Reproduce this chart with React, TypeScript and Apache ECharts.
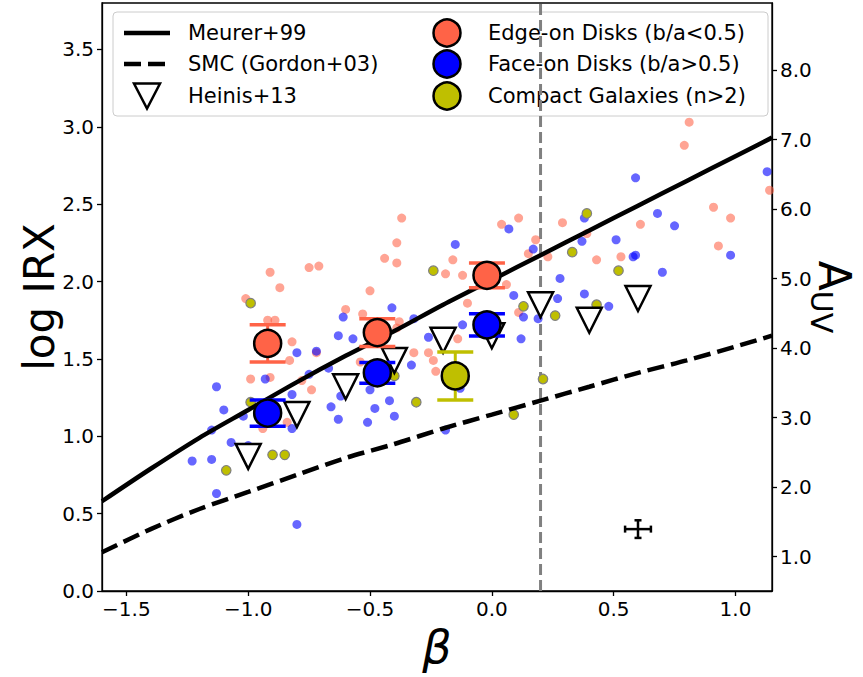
import React, { useEffect, useRef } from 'react';
import * as echarts from 'echarts';

// Axis ranges and tick positions
const BETA_MIN = -1.6;
const BETA_MAX = 1.15;
const LOG_IRX_MIN = 0;
const LOG_IRX_MAX = 3.8;
const AUV_MIN = 0.504;
const AUV_MAX = 8.964;
const BETA_TICKS = [-1.5, -1.0, -0.5, 0.0, 0.5, 1.0];
const LOG_IRX_TICKS = [0, 0.5, 1.0, 1.5, 2.0, 2.5, 3.0, 3.5];
const AUV_TICKS = [1, 2, 3, 4, 5, 6, 7, 8];

// Vertical reference line in beta
const BETA_CUT = 0.2;

// Meurer+99 and SMC (Gordon+03) relations, log IRX against beta
const CURVE_BETA = [-1.6, -1.4, -1.2, -1.0, -0.8, -0.6, -0.4, -0.2, 0.0, 0.2, 0.4, 0.6, 0.8, 1.0, 1.15];
const MEURER_LOG_IRX = [0.58, 0.79, 0.99, 1.17, 1.35, 1.52, 1.68, 1.85, 2.01, 2.17, 2.33, 2.49, 2.65, 2.81, 2.93];
const SMC_LOG_IRX = [0.25, 0.4, 0.53, 0.64, 0.75, 0.86, 0.95, 1.05, 1.14, 1.23, 1.32, 1.41, 1.49, 1.58, 1.65];

// Heinis+13 stacked measurements
const HEINIS_BETA = [-1.0, -0.8, -0.6, -0.4, -0.2, 0.0, 0.2, 0.4, 0.6];
const HEINIS_LOG_IRX = [0.87, 1.14, 1.32, 1.49, 1.62, 1.65, 1.85, 1.75, 1.89];

// Individual galaxies [beta, log IRX]
const EDGE_ON_GALAXIES = [
  [-0.37, 2.41], [-0.39, 2.25], [-0.44, 2.15], [-0.39, 2.12], [-0.75, 2.09], [-0.71, 2.1],
  [-0.91, 2.06], [-0.87, 1.96], [-0.5, 1.94], [-1.01, 1.89], [-0.19, 2.05], [-0.6, 1.82],
  [-0.53, 1.79], [-0.38, 1.74], [-0.39, 1.7], [-0.92, 1.75], [-0.89, 1.75], [-0.82, 1.61],
  [-0.83, 1.49], [-0.91, 1.38], [-0.99, 1.37], [-0.78, 1.36], [-0.74, 1.3], [-0.72, 1.54],
  [-0.54, 1.48], [-0.32, 1.54], [-0.26, 1.54], [-0.24, 1.49], [-0.23, 1.42], [-0.84, 1.09],
  [-0.94, 1.05], [0.81, 3.03], [0.79, 2.88], [0.91, 2.48], [0.98, 2.41], [0.93, 2.23],
  [0.61, 2.37], [1.14, 2.59], [0.29, 2.38], [0.11, 2.41], [0.04, 2.37], [0.18, 2.27],
  [0.15, 2.18], [0.23, 2.16], [0.39, 2.31], [0.43, 2.14], [0.53, 2.16], [-0.16, 2.14],
  [-0.12, 2.04], [0.06, 1.98], [-0.1, 1.86], [0.11, 1.8], [-0.14, 1.63],
];
const FACE_ON_GALAXIES = [
  [-0.41, 1.83], [-0.32, 1.76], [-0.61, 1.77], [-0.63, 1.65], [-0.57, 1.63], [-0.26, 1.64],
  [-1.13, 1.32], [-1.1, 1.17], [-1.15, 1.04], [-1.23, 0.84], [-1.15, 0.85], [-1.07, 0.96],
  [-1.0, 0.94], [-1.02, 1.13], [-1.13, 0.63], [-0.93, 1.37], [-0.82, 1.27], [-0.82, 1.05],
  [-0.75, 1.4], [-0.72, 1.55], [-0.67, 1.44], [-0.8, 1.54], [-0.66, 1.19], [-0.62, 1.26],
  [-0.63, 1.11], [-0.51, 1.09], [-0.48, 1.18], [-0.42, 1.23], [-0.4, 1.13], [-0.33, 1.46],
  [-0.5, 1.3], [-0.19, 1.04], [0.59, 2.67], [1.13, 2.71], [0.68, 2.44], [0.75, 2.36],
  [0.98, 2.17], [0.07, 2.34], [0.38, 2.41], [0.37, 2.26], [0.51, 2.27], [0.58, 2.16],
  [0.59, 2.17], [0.7, 2.06], [0.28, 2.02], [0.17, 2.21], [-0.15, 2.24], [0.09, 1.91],
  [0.27, 1.89], [0.38, 1.92], [0.48, 1.84], [0.19, 1.76], [0.13, 1.77], [0.12, 1.63],
  [-0.12, 1.72], [-0.13, 1.31], [-0.8, 0.43],
];
const COMPACT_GALAXIES = [
  [-0.99, 1.86], [-0.24, 2.07], [-0.99, 1.22], [-0.9, 0.88], [-0.85, 0.88], [-1.09, 0.78],
  [-0.31, 1.22], [-0.4, 1.39], [0.39, 2.44], [0.33, 2.19], [0.52, 2.07], [0.13, 1.84],
  [0.43, 1.85], [0.26, 1.78], [0.21, 1.37], [0.09, 1.14],
];

// Binned means with 1-sigma errors
const EDGE_ON_BETA = [-0.92, -0.47, -0.02];
const EDGE_ON_LOG_IRX = [1.6, 1.67, 2.04];
const EDGE_ON_ERR = [0.12, 0.09, 0.08];
const FACE_ON_BETA = [-0.92, -0.47, -0.02];
const FACE_ON_LOG_IRX = [1.15, 1.41, 1.72];
const FACE_ON_ERR = [0.085, 0.067, 0.072];
const COMPACT_BETA = [-0.15];
const COMPACT_LOG_IRX = [1.39];
const COMPACT_ERR = [0.155];

// Typical measurement uncertainty: [beta, log IRX, beta err, log IRX err]
const TYPICAL_ERROR = [0.6, 0.4, 0.053, 0.057];

const WIDTH = 863;
const HEIGHT = 677;
const FONT = '"DejaVu Sans", Verdana, sans-serif';
const TOMATO = '#FF6347';
const BLUE = '#0000FF';
const OLIVE = '#BFBF00';

const fmtTick = (v: number) => v.toFixed(1).replace('-', '\u2212');

function verticalErrorBars(color: string, capHalf: number) {
  return (params: any, api: any) => {
    const x = api.value(0);
    const y = api.value(1);
    const e = api.value(2);
    const top = api.coord([x, y + e]);
    const bot = api.coord([x, y - e]);
    const capStyle = { stroke: color, lineWidth: 3.5 };
    return {
      type: 'group',
      children: [
        { type: 'line', shape: { x1: top[0], y1: top[1], x2: bot[0], y2: bot[1] }, style: { stroke: color, lineWidth: 3 } },
        { type: 'line', shape: { x1: top[0] - capHalf, y1: top[1], x2: top[0] + capHalf, y2: top[1] }, style: capStyle },
        { type: 'line', shape: { x1: bot[0] - capHalf, y1: bot[1], x2: bot[0] + capHalf, y2: bot[1] }, style: capStyle },
      ],
    };
  };
}

function crossErrorBar(params: any, api: any) {
  const x = api.value(0);
  const y = api.value(1);
  const ex = api.value(2);
  const ey = api.value(3);
  const l = api.coord([x - ex, y]);
  const r = api.coord([x + ex, y]);
  const t = api.coord([x, y + ey]);
  const b = api.coord([x, y - ey]);
  const cap = 3.5;
  const style = { stroke: '#000', lineWidth: 2.5 };
  return {
    type: 'group',
    children: [
      { type: 'line', shape: { x1: l[0], y1: l[1], x2: r[0], y2: r[1] }, style },
      { type: 'line', shape: { x1: t[0], y1: t[1], x2: b[0], y2: b[1] }, style },
      { type: 'line', shape: { x1: l[0], y1: l[1] - cap, x2: l[0], y2: l[1] + cap }, style },
      { type: 'line', shape: { x1: r[0], y1: r[1] - cap, x2: r[0], y2: r[1] + cap }, style },
      { type: 'line', shape: { x1: t[0] - cap, y1: t[1], x2: t[0] + cap, y2: t[1] }, style },
      { type: 'line', shape: { x1: b[0] - cap, y1: b[1], x2: b[0] + cap, y2: b[1] }, style },
    ],
  };
}

const zip = (a: number[], b: number[]) => a.map((v, i) => [v, b[i]]);
const zip3 = (a: number[], b: number[], c: number[]) => a.map((v, i) => [v, b[i], c[i]]);

function legendGraphics() {
  const rowY = [33, 64, 96];
  const leftText = ['Meurer+99', 'SMC (Gordon+03)', 'Heinis+13'];
  const rightText = ['Edge-on Disks (b/a<0.5)', 'Face-on Disks (b/a>0.5)', 'Compact Galaxies (n>2)'];
  const rightColor = [TOMATO, BLUE, OLIVE];
  const label = (text: string, x: number, y: number) => ({
    type: 'text',
    style: {
      text,
      x,
      y,
      fill: '#000',
      font: `21px ${FONT}`,
      textVerticalAlign: 'middle',
      verticalAlign: 'middle',
    },
  });
  const els: any[] = [
    {
      type: 'rect',
      shape: { x: 113, y: 12, width: 655, height: 104, r: 4 },
      style: { fill: 'rgba(255,255,255,0.8)', stroke: '#cccccc', lineWidth: 1 },
    },
    { type: 'line', shape: { x1: 124, y1: rowY[0], x2: 170, y2: rowY[0] }, style: { stroke: '#000', lineWidth: 4.5 } },
    { type: 'line', shape: { x1: 124, y1: rowY[1], x2: 170, y2: rowY[1] }, style: { stroke: '#000', lineWidth: 4.5, lineDash: [17, 7] } },
    {
      type: 'polygon',
      shape: { points: [[134, rowY[2] - 12.5], [160, rowY[2] - 12.5], [147, rowY[2] + 12.5]] },
      style: { fill: '#fff', stroke: '#000', lineWidth: 2.5, lineJoin: 'miter' },
    },
  ];
  leftText.forEach((t, i) => els.push(label(t, 188, rowY[i])));
  rightText.forEach((t, i) => {
    els.push({
      type: 'circle',
      shape: { cx: 447, cy: rowY[i], r: 13.5 },
      style: { fill: rightColor[i], stroke: '#000', lineWidth: 2.5 },
    });
    els.push(label(t, 488, rowY[i]));
  });
  return { type: 'group', z: 100, children: els };
}

export default function App() {
  const ref = useRef<HTMLDivElement>(null);

  useEffect(() => {
    document.body.style.margin = '0';
    if (!ref.current) return;
    const chart = echarts.init(ref.current, undefined, { renderer: 'svg', width: WIDTH, height: HEIGHT });

    const axisLineStyle = { color: '#000', width: 1.3 };
    const tickLabel = { fontSize: 20, fontFamily: FONT, color: '#000' };

    chart.setOption({
      animation: false,
      backgroundColor: '#fff',
      grid: {
        left: 102,
        right: 91,
        top: 3,
        bottom: 86,
        show: true,
        borderColor: '#000',
        borderWidth: 1.3,
        backgroundColor: 'transparent',
        containLabel: false,
        outerBoundsMode: 'none',
      },
      xAxis: {
        type: 'value',
        min: BETA_MIN,
        max: BETA_MAX,
        axisLine: { show: true, onZero: false, lineStyle: axisLineStyle },
        axisTick: { show: true, customValues: BETA_TICKS, length: 5, lineStyle: axisLineStyle },
        axisLabel: { ...tickLabel, customValues: BETA_TICKS, formatter: (v: number) => fmtTick(v), margin: 8 },
        splitLine: { show: false },
        name: 'β',
        nameLocation: 'middle',
        nameGap: 25,
        nameTextStyle: { fontSize: 46, fontStyle: 'italic', fontFamily: FONT, color: '#000', verticalAlign: 'top' },
      },
      yAxis: [
        {
          type: 'value',
          position: 'left',
          min: LOG_IRX_MIN,
          max: LOG_IRX_MAX,
          axisLine: { show: true, onZero: false, lineStyle: axisLineStyle },
          axisTick: { show: true, customValues: LOG_IRX_TICKS, length: 5, lineStyle: axisLineStyle },
          axisLabel: { ...tickLabel, customValues: LOG_IRX_TICKS, formatter: (v: number) => fmtTick(v), margin: 8 },
          splitLine: { show: false },
          name: 'log IRX',
          nameLocation: 'middle',
          nameGap: 42,
          nameRotate: 90,
          nameMoveOverlap: false,
          nameTextStyle: { fontSize: 42, fontFamily: FONT, color: '#000' },
        },
        {
          type: 'value',
          position: 'right',
          min: AUV_MIN,
          max: AUV_MAX,
          axisLine: { show: true, onZero: false, lineStyle: axisLineStyle },
          axisTick: { show: true, customValues: AUV_TICKS, length: 5, lineStyle: axisLineStyle },
          axisLabel: { ...tickLabel, customValues: AUV_TICKS, formatter: (v: number) => v.toFixed(1), margin: 8 },
          splitLine: { show: false },
          name: '{a|A}{b|UV}',
          nameLocation: 'middle',
          nameGap: 34,
          nameRotate: -90,
          nameMoveOverlap: false,
          nameTextStyle: {
            color: '#000',
            rich: {
              a: { fontSize: 44, fontFamily: FONT, color: '#000', padding: [0, 0, 6, 0] },
              b: { fontSize: 30, fontFamily: FONT, color: '#000', verticalAlign: 'bottom' },
            },
          },
        },
      ],
      graphic: [legendGraphics()],
      series: [
        {
          name: 'beta cut',
          type: 'line',
          data: [[BETA_CUT, LOG_IRX_MIN], [BETA_CUT, LOG_IRX_MAX]],
          symbol: 'none',
          lineStyle: { color: '#808080', width: 3, type: [11, 5] },
          z: 1,
          silent: true,
        },
        {
          name: 'Edge-on galaxies',
          type: 'scatter',
          data: EDGE_ON_GALAXIES,
          symbolSize: 9,
          itemStyle: { color: 'rgba(255,99,71,0.58)', opacity: 1 },
          z: 2,
        },
        {
          name: 'Face-on galaxies',
          type: 'scatter',
          data: FACE_ON_GALAXIES,
          symbolSize: 9,
          itemStyle: { color: 'rgba(0,0,255,0.6)', opacity: 1 },
          z: 2,
        },
        {
          name: 'Compact galaxies',
          type: 'scatter',
          data: COMPACT_GALAXIES,
          symbolSize: 9.5,
          itemStyle: { color: OLIVE, borderColor: '#808080', borderWidth: 1.2, opacity: 1 },
          z: 2,
        },
        {
          name: 'Meurer+99',
          type: 'line',
          data: zip(CURVE_BETA, MEURER_LOG_IRX),
          smooth: 0.3,
          symbol: 'none',
          lineStyle: { color: '#000', width: 4.5 },
          z: 3,
        },
        {
          name: 'SMC (Gordon+03)',
          type: 'line',
          data: zip(CURVE_BETA, SMC_LOG_IRX),
          smooth: 0.3,
          symbol: 'none',
          lineStyle: { color: '#000', width: 4.5, type: [17, 7] },
          z: 3,
        },
        {
          name: 'Heinis+13',
          type: 'scatter',
          data: zip(HEINIS_BETA, HEINIS_LOG_IRX),
          symbol: 'triangle',
          symbolRotate: 180,
          symbolSize: 25,
          itemStyle: { color: '#fff', borderColor: '#000', borderWidth: 2.5, opacity: 1 },
          z: 4,
        },
        {
          name: 'Edge-on errors',
          type: 'custom',
          data: zip3(EDGE_ON_BETA, EDGE_ON_LOG_IRX, EDGE_ON_ERR),
          renderItem: verticalErrorBars(TOMATO, 18),
          encode: { x: 0, y: 1 },
          z: 5,
        },
        {
          name: 'Face-on errors',
          type: 'custom',
          data: zip3(FACE_ON_BETA, FACE_ON_LOG_IRX, FACE_ON_ERR),
          renderItem: verticalErrorBars(BLUE, 18),
          encode: { x: 0, y: 1 },
          z: 5,
        },
        {
          name: 'Compact errors',
          type: 'custom',
          data: zip3(COMPACT_BETA, COMPACT_LOG_IRX, COMPACT_ERR),
          renderItem: verticalErrorBars(OLIVE, 18),
          encode: { x: 0, y: 1 },
          z: 5,
        },
        {
          name: 'Typical error',
          type: 'custom',
          data: [TYPICAL_ERROR],
          renderItem: crossErrorBar,
          encode: { x: 0, y: 1 },
          z: 5,
        },
        {
          name: 'Edge-on Disks (b/a<0.5)',
          type: 'scatter',
          data: zip(EDGE_ON_BETA, EDGE_ON_LOG_IRX),
          symbolSize: 27,
          itemStyle: { color: TOMATO, borderColor: '#000', borderWidth: 2.5, opacity: 1 },
          z: 6,
        },
        {
          name: 'Face-on Disks (b/a>0.5)',
          type: 'scatter',
          data: zip(FACE_ON_BETA, FACE_ON_LOG_IRX),
          symbolSize: 27,
          itemStyle: { color: BLUE, borderColor: '#000', borderWidth: 2.5, opacity: 1 },
          z: 6,
        },
        {
          name: 'Compact Galaxies (n>2)',
          type: 'scatter',
          data: zip(COMPACT_BETA, COMPACT_LOG_IRX),
          symbolSize: 27,
          itemStyle: { color: OLIVE, borderColor: '#000', borderWidth: 2.5, opacity: 1 },
          z: 6,
        },
      ],
    });

    return () => chart.dispose();
  }, []);

  return (
    <div
      ref={ref}
      style={{ position: 'fixed', left: 0, top: 0, width: WIDTH, height: HEIGHT }}
    />
  );
}
